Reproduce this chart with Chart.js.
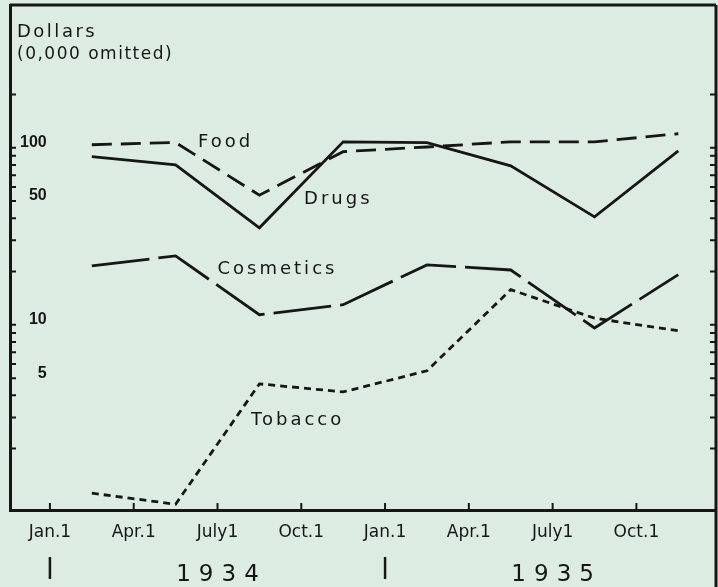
<!DOCTYPE html>
<html>
<head>
<meta charset="utf-8">
<script src="https://cdn.jsdelivr.net/npm/chart.js@4.4.0/dist/chart.umd.min.js"></script>
<style>
  html, body { margin: 0; padding: 0; background: #ddece2; }
  #wrap { width: 718px; height: 587px; }
</style>
</head>
<body>
<div id="wrap"><canvas id="myChart" width="718" height="587"></canvas></div>
<script>
// x is months counted from Jan. 1, 1934; quarterly figures sit mid-quarter
const QUARTER_X = [1.5, 4.5, 7.5, 10.5, 13.5, 16.5, 19.5, 22.5];
const FOOD      = [104, 107, 54, 95, 101, 108, 108, 120];
const DRUGS     = [89, 80, 35.3, 108, 107, 79, 40.7, 96];
const COSMETICS = [21.5, 24.5, 11.4, 13.0, 21.8, 20.4, 9.6, 19.2];
const TOBACCO   = [1.12, 0.97, 4.64, 4.18, 5.5, 15.8, 10.9, 9.25];

const MONTH_TICKS  = [0, 3, 6, 9, 12, 15, 18, 21];
const MONTH_LABELS = ['Jan.1', 'Apr.1', 'July1', 'Oct.1', 'Jan.1', 'Apr.1', 'July1', 'Oct.1'];
const YEAR_TICKS   = [6, 18];
const YEAR_LABELS  = ['1934', '1935'];
const YEAR_MARKS   = [0, 12];

const Y_TICKS  = [2, 3, 4, 5, 6, 7, 8, 9, 10, 20, 30, 40, 50, 60, 70, 80, 90, 100, 200];
const Y_LABELS = [5, 10, 50, 100];

const SERIES_NAMES = ['Food', 'Drugs', 'Cosmetics', 'Tobacco'];
// where each name is written, in chart units (month, dollars)
const NAME_X = [5.3, 9.1, 6.0, 7.2];
const NAME_Y = [108, 51, 20.5, 2.9];

const INK = '#161616';

function pts(ys) {
  return ys.map((y, i) => ({x: QUARTER_X[i], y: y}));
}

const extras = {
  id: 'extras',
  afterDraw(chart) {
    const ctx = chart.ctx;
    const a = chart.chartArea;
    const xs = chart.scales.x, ys = chart.scales.y;
    ctx.save();
    ctx.strokeStyle = INK;
    ctx.fillStyle = INK;

    // frame top and right
    ctx.lineWidth = 3;
    ctx.beginPath();
    ctx.moveTo(a.left, a.top);
    ctx.lineTo(a.right, a.top);
    ctx.moveTo(a.right, a.top);
    ctx.lineTo(a.right, chart.height);
    ctx.stroke();

    // inward tick marks
    ctx.lineWidth = 2;
    ctx.beginPath();
    ys.ticks.forEach(t => {
      const py = ys.getPixelForValue(t.value);
      ctx.moveTo(a.left, py); ctx.lineTo(a.left + 6, py);
      ctx.moveTo(a.right, py); ctx.lineTo(a.right - 6, py);
    });
    xs.ticks.forEach(t => {
      const px = xs.getPixelForValue(t.value);
      ctx.moveTo(px, a.bottom); ctx.lineTo(px, a.bottom - 7);
    });
    ctx.stroke();

    // heading
    ctx.textAlign = 'left';
    ctx.textBaseline = 'middle';
    ctx.font = '18px "DejaVu Sans"';
    ctx.letterSpacing = '2.5px';
    ctx.fillText('Dollars', a.left + 7, a.top + 27);
    ctx.font = '17px "DejaVu Sans"';
    ctx.letterSpacing = '1.5px';
    ctx.fillText('(0,000 omitted)', a.left + 7, a.top + 50);

    // series names
    ctx.font = '18px "DejaVu Sans"';
    ctx.letterSpacing = '3px';
    SERIES_NAMES.forEach((n, i) => {
      ctx.fillText(n, xs.getPixelForValue(NAME_X[i]), ys.getPixelForValue(NAME_Y[i]));
    });

    // year row
    ctx.textAlign = 'center';
    ctx.font = '23px "DejaVu Sans"';
    ctx.letterSpacing = '8px';
    YEAR_LABELS.forEach((lab, i) => {
      ctx.fillText(lab, xs.getPixelForValue(YEAR_TICKS[i]) + 4, 575);
    });
    ctx.lineWidth = 2.5;
    ctx.beginPath();
    YEAR_MARKS.forEach(m => {
      const px = xs.getPixelForValue(m);
      ctx.moveTo(px, 557); ctx.lineTo(px, 579);
    });
    ctx.stroke();
    ctx.restore();
  }
};

window.onload = function() {
  const ctx = document.getElementById('myChart');

  const common = {
    borderColor: INK,
    borderWidth: 2.8,
    pointRadius: 0,
    tension: 0,
    fill: false,
    borderCapStyle: 'butt'
  };

  const data = {
    datasets: [
      Object.assign({label: 'Food', data: pts(FOOD), borderDash: [20, 9]}, common),
      Object.assign({label: 'Drugs', data: pts(DRUGS)}, common),
      Object.assign({label: 'Cosmetics', data: pts(COSMETICS), borderDash: [58, 9]}, common),
      Object.assign({label: 'Tobacco', data: pts(TOBACCO), borderDash: [7, 5]}, common)
    ]
  };

  const config = {
    type: 'line',
    data: data,
    options: {
      responsive: false,
      animation: false,
      layout: {padding: {left: 10, right: 2, top: 5, bottom: 0}},
      plugins: {legend: {display: false}, tooltip: {enabled: false}},
      scales: {
        x: {
          type: 'linear',
          min: -1.43,
          max: 23.85,
          grid: {display: false, drawTicks: false},
          border: {display: true, color: INK, width: 3},
          afterBuildTicks: s => { s.ticks = MONTH_TICKS.map(v => ({value: v})); },
          afterFit: s => { s.height = 77; s.paddingLeft = 0; s.paddingRight = 0; },
          ticks: {
            autoSkip: false,
            maxRotation: 0,
            padding: 12,
            color: INK,
            font: {family: 'DejaVu Sans', size: 17},
            callback: (v, i) => MONTH_LABELS[i]
          }
        },
        y: {
          type: 'logarithmic',
          min: 0.9,
          max: 640,
          grid: {display: false, drawTicks: false},
          border: {display: true, color: INK, width: 3},
          afterBuildTicks: s => { s.ticks = Y_TICKS.map(v => ({value: v})); },
          afterFit: s => { s.width = 0; s.paddingTop = 0; s.paddingBottom = 0; },
          ticks: {
            autoSkip: false,
            mirror: true,
            crossAlign: 'far',
            padding: 10,
            labelOffset: -5,
            color: INK,
            font: {family: 'Liberation Sans', size: 16, weight: 'bold'},
            callback: v => Y_LABELS.includes(v) ? String(v) : ''
          }
        }
      }
    },
    plugins: [extras]
  };

  new Chart(ctx, config);
};
</script>
</body>
</html>
